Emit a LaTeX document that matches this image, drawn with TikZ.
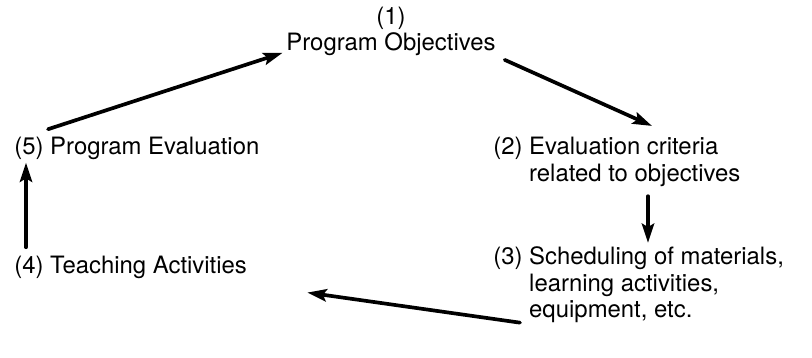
\documentclass[tikz,border=0pt]{standalone}
\usepackage{fontspec}
\setmainfont{TeX Gyre Heros}
\usetikzlibrary{arrows.meta, positioning}
\tikzset{
  >={Stealth[length=11pt, width=7pt, inset=2pt]},
  every picture/.style={line cap=round, line join=round},
  stagetext/.style={inner sep=0pt, font=\fontsize{13.6}{14.8}\selectfont},
  flowarrow/.style={->, line width=2.1pt},
}

\begin{document}
\begin{tikzpicture}
  \useasboundingbox (0,0) rectangle (16.24,-7.16);
  % the five stages of the cycle
  \node[stagetext, align=center, anchor=north] (obj) at (7.82,-0.14) {(1)\\Program Objectives};
  \node[stagetext, anchor=base west] (crit) at (9.86,-3.1)
    {\begin{tabular}[t]{@{}l@{ }l@{}}(2)&Evaluation criteria\\&related to objectives\end{tabular}};
  \node[stagetext, anchor=base west] (sched) at (9.86,-5.3)
    {\begin{tabular}[t]{@{}l@{ }l@{}}(3)&Scheduling of materials,\\&learning activities,\\&equipment, etc.\end{tabular}};
  \node[stagetext, anchor=base west] (teach) at (0.28,-5.46) {(4) Teaching Activities};
  \node[stagetext, anchor=base west] (evalprog) at (0.28,-3.1) {(5) Program Evaluation};
  % arrows round the cycle
  \draw[flowarrow] ([xshift=5pt, yshift=-2pt]obj.south east) -- ([xshift=3.18cm, yshift=0.21cm]crit.north west);
  \draw[flowarrow] ([xshift=3.1cm, yshift=-0.14cm]crit.south west) -- ([xshift=3.1cm, yshift=0.07cm]sched.north west);
  \draw[flowarrow] ([xshift=0.54cm, yshift=0.05cm]sched.south west) -- ([xshift=1.2cm, yshift=-0.28cm]teach.south east);
  \draw[flowarrow] ([xshift=0.24cm, yshift=0.16cm]teach.north west) -- ([xshift=0.24cm, yshift=-0.04cm]evalprog.south west);
  \draw[flowarrow] ([xshift=0.68cm, yshift=0.16cm]evalprog.north west) -- ([xshift=-2pt, yshift=2pt]obj.south west);
\end{tikzpicture}
\end{document}
